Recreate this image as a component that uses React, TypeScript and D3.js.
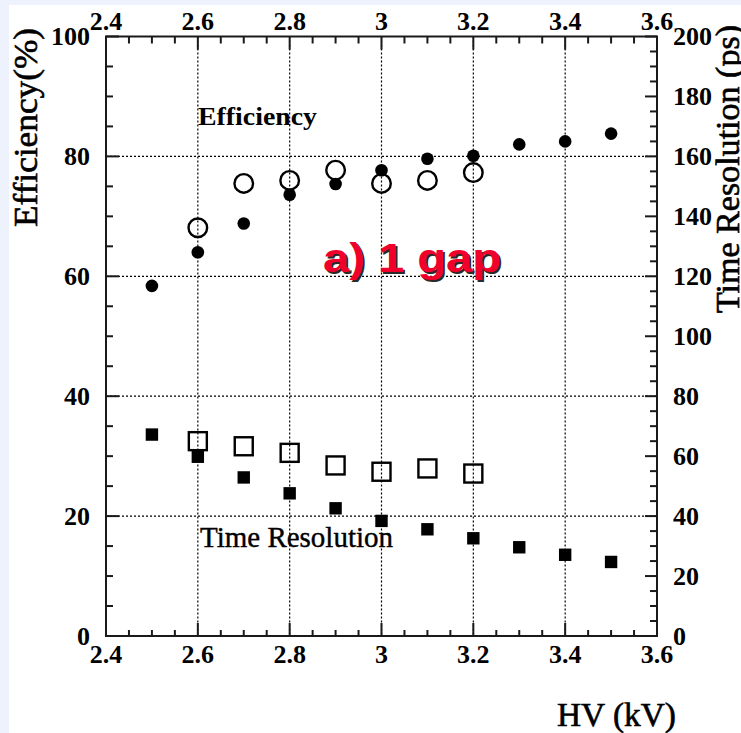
import React from 'react';
import * as d3 from 'd3';

const hvFilled = [2.5, 2.6, 2.7, 2.8, 2.9, 3.0, 3.1, 3.2, 3.3, 3.4, 3.5];
const effFilled = [58.4, 64.0, 68.8, 73.6, 75.4, 77.7, 79.6, 80.1, 82.0, 82.5, 83.8];
const trFilled = [67.2, 59.8, 52.9, 47.6, 42.6, 38.4, 35.6, 32.6, 29.6, 27.1, 24.7];
const hvOpen = [2.6, 2.7, 2.8, 2.9, 3.0, 3.1, 3.2];
const effOpen = [68.1, 75.5, 76.0, 77.7, 75.5, 76.0, 77.3];
const trOpen = [65.0, 63.3, 61.1, 56.9, 54.8, 55.9, 54.2];
const xTickVals = [2.4, 2.6, 2.8, 3.0, 3.2, 3.4, 3.6];
const xTickLabels = ['2.4', '2.6', '2.8', '3', '3.2', '3.4', '3.6'];
const effTickVals = [0, 20, 40, 60, 80, 100];
const trTickVals = [0, 20, 40, 60, 80, 100, 120, 140, 160, 180, 200];

const W = 741;
const H = 733;
const L = 106, R = 657, T = 36.5, B = 636;

export default function App() {
  const x = d3.scaleLinear().domain([2.4, 3.6]).range([L, R]);
  const yL = d3.scaleLinear().domain([0, 100]).range([B, T]);
  const yR = d3.scaleLinear().domain([0, 200]).range([B, T]);

  const xMinor = d3.range(0, 25).map((i) => ({ v: 2.4 + i * 0.05, major: i % 4 === 0 }));
  const lMinor = d3.range(0, 21).map((i) => ({ v: i * 5, major: i % 4 === 0 }));
  const rMinor = d3.range(0, 41).map((i) => ({ v: i * 5, major: i % 4 === 0 }));

  const serif = '"Liberation Serif", "Times New Roman", serif';
  const sans = '"Liberation Sans", Arial, sans-serif';
  const axisCol = '#1a1a1a';

  return (
    <svg width={W} height={H} style={{ position: 'absolute', left: 0, top: 0, display: 'block' }}>
      <rect x={0} y={0} width={W} height={H} fill="#edf2fc" />
      <rect x={9} y={5} width={W - 9} height={H - 5} fill="#ffffff" />

      {/* grid */}
      <g stroke="#000" strokeWidth={1.2} strokeDasharray="2,2">
        {xTickVals.slice(1, -1).map((v) => (
          <line key={'gx' + v} x1={x(v)} x2={x(v)} y1={T} y2={B} />
        ))}
        {effTickVals.slice(1, -1).map((v) => (
          <line key={'gy' + v} x1={L} x2={R} y1={yL(v)} y2={yL(v)} />
        ))}
      </g>

      {/* frame */}
      <g stroke={axisCol} strokeWidth={2} fill="none">
        <rect x={L} y={T} width={R - L} height={B - T} />
        {xMinor.map((t, i) => (
          <g key={'xt' + i}>
            <line x1={x(t.v)} x2={x(t.v)} y1={B} y2={B - (t.major ? 13 : 6)} />
            <line x1={x(t.v)} x2={x(t.v)} y1={T} y2={T + (t.major ? 13 : 7)} />
          </g>
        ))}
        {lMinor.map((t, i) => (
          <line key={'lt' + i} x1={L} x2={L + (t.major ? 13 : 7)} y1={yL(t.v)} y2={yL(t.v)} />
        ))}
        {rMinor.map((t, i) => (
          <line key={'rt' + i} x1={R} x2={R - (t.major ? 12 : 7)} y1={yR(t.v)} y2={yR(t.v)} />
        ))}
      </g>

      {/* tick labels */}
      <g fontFamily={serif} fontWeight="bold" fontSize={26} fill="#000">
        {xTickVals.map((v, i) => (
          <text key={'bl' + v} x={x(v)} y={663} textAnchor="middle">{xTickLabels[i]}</text>
        ))}
        {xTickVals.map((v, i) => (
          <text key={'tl' + v} x={x(v)} y={30} textAnchor="middle">{xTickLabels[i]}</text>
        ))}
        {effTickVals.map((v) => (
          <text key={'ll' + v} x={90} y={yL(v)} dy="0.34em" textAnchor="end">{v}</text>
        ))}
        {trTickVals.map((v) => (
          <text key={'rl' + v} x={673} y={yR(v)} dy="0.34em" textAnchor="start">{v}</text>
        ))}
      </g>

      {/* markers */}
      <g fill="none" stroke="#000" strokeWidth={2.4}>
        {hvOpen.map((v, i) => (
          <circle key={'oc' + i} cx={x(v)} cy={yL(effOpen[i])} r={9.3} />
        ))}
        {hvOpen.map((v, i) => (
          <rect key={'os' + i} x={x(v) - 9} y={yR(trOpen[i]) - 9} width={18} height={18} />
        ))}
      </g>
      <g fill="#000">
        {hvFilled.map((v, i) => (
          <circle key={'fc' + i} cx={x(v)} cy={yL(effFilled[i])} r={6.3} />
        ))}
        {hvFilled.map((v, i) => (
          <rect key={'fs' + i} x={x(v) - 6.2} y={yR(trFilled[i]) - 6.2} width={12.4} height={12.4} />
        ))}
      </g>

      {/* in-plot labels */}
      <text x={198} y={125} fontFamily={serif} fontWeight="bold" fontSize={25} textLength={119} lengthAdjust="spacingAndGlyphs">Efficiency</text>
      <text x={200} y={546.5} fontFamily={serif} fontSize={28.5} stroke="#000" strokeWidth={0.4} textLength={193} lengthAdjust="spacingAndGlyphs">Time Resolution</text>

      <g fontFamily={sans} fontWeight="bold" fontSize={40}>
        <text x={325} y={273.5} fill="#2a2a2a" textLength={178} lengthAdjust="spacingAndGlyphs">a) 1 gap</text>
        <text x={323} y={271.5} fill="#f0002a" textLength={178} lengthAdjust="spacingAndGlyphs">a) 1 gap</text>
      </g>

      {/* axis titles */}
      <text transform="translate(37,227) rotate(-90)" fontFamily={serif} fontSize={33} stroke="#000" strokeWidth={0.6} textLength={199} lengthAdjust="spacingAndGlyphs">Efficiency(%)</text>
      <text transform="translate(739,313) rotate(-90)" fontFamily={serif} fontSize={33} stroke="#000" strokeWidth={0.6} textLength={288} lengthAdjust="spacingAndGlyphs">Time Resolution (ps)</text>
      <text x={557} y={726} fontFamily={serif} fontSize={33} stroke="#000" strokeWidth={0.6} textLength={119} lengthAdjust="spacingAndGlyphs">HV (kV)</text>
    </svg>
  );
}
